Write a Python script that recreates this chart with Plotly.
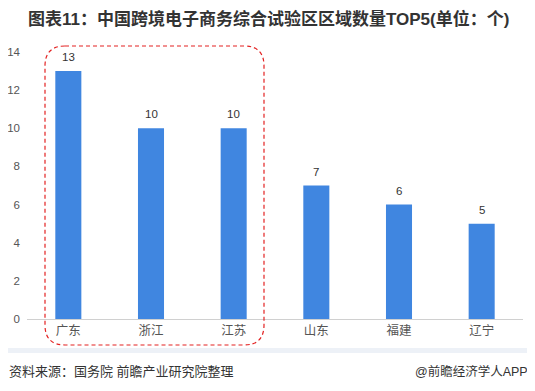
import plotly.graph_objects as go

categories = ["广东", "浙江", "江苏", "山东", "福建", "辽宁"]
values = [13, 10, 10, 7, 6, 5]
y_ticks = [0, 2, 4, 6, 8, 10, 12, 14]

title_text = "图表11：中国跨境电子商务综合试验区区域数量TOP5(单位：个)"
source_text = "资料来源：国务院 前瞻产业研究院整理"
brand_text = "@前瞻经济学人APP"

O = 8  # page body margin offset
W, H = 535 - O, 391 - O
L, R, T, B = 27 - O, 12, 52 - O, 72
pw, ph = W - L - R, H - T - B

def px(x):  # x in reference page pixels -> paper
    return (x - O - L) / pw

def py(y):
    return (H - B - (y - O)) / ph

FONT = "Liberation Sans, Arial, Noto Sans CJK SC, sans-serif"

fig = go.Figure()
fig.add_trace(go.Bar(
    x=categories, y=values,
    marker=dict(color="#4086E0", line=dict(width=0)),
    cliponaxis=False, width=0.315,
))

value_labels = [
    dict(x=c, y=v, xref="x", yref="y", text=str(v), showarrow=False,
         xanchor="center", yanchor="bottom", yshift=6,
         font=dict(size=11.5, color="#333333"))
    for c, v in zip(categories, values)
]

# dashed rounded highlight box
x0, x1, y0, y1 = px(45), px(264), py(345), py(46)
rx, ry = 20 / pw, 20 / ph
path = (f"M {x0+rx},{y1} L {x1-rx},{y1} Q {x1},{y1} {x1},{y1-ry} "
        f"L {x1},{y0+ry} Q {x1},{y0} {x1-rx},{y0} L {x0+rx},{y0} "
        f"Q {x0},{y0} {x0},{y0+ry} L {x0},{y1-ry} Q {x0},{y1} {x0+rx},{y1} Z")
shapes = [
    dict(type="path", xref="paper", yref="paper", path=path,
         line=dict(color="#E32222", width=1.2, dash="4px,3px"), fillcolor="rgba(0,0,0,0)"),
    dict(type="rect", xref="paper", yref="paper", x0=px(O), x1=px(534), y0=py(353), y1=py(348),
         line=dict(width=0), fillcolor="#EDF1F7", layer="below"),
    dict(type="rect", xref="paper", yref="paper", x0=px(532), x1=px(534), y0=py(348), y1=py(41),
         line=dict(width=0), fillcolor="#EDF1F7", layer="below"),
]

fig.update_layout(
    width=W, height=H,
    margin=dict(l=L, r=R, t=T, b=B, autoexpand=False),
    paper_bgcolor="white", plot_bgcolor="white",
    font=dict(family=FONT, color="#555555"),
    showlegend=False,
    bargap=0.685,
    shapes=shapes,
    xaxis=dict(showline=True, linecolor="#D0D0D0", linewidth=1, ticks="", automargin=False,
               tickfont=dict(size=12.5, color="#555555"), showgrid=False, fixedrange=True),
    yaxis=dict(range=[0, 14], tickvals=y_ticks, showgrid=False, zeroline=False, automargin=False,
               showline=False, tickfont=dict(size=11.5, color="#555555"), ticklabelstandoff=6),
    annotations=value_labels + [
        dict(text=f"<b>{title_text}</b>", xref="paper", yref="paper", x=px(268), y=py(19),
             xanchor="center", yanchor="middle", showarrow=False,
             font=dict(size=17, color="#333333", family=FONT)),
        dict(text=source_text, xref="paper", yref="paper", x=px(7), y=py(371),
             xanchor="left", yanchor="middle", showarrow=False,
             font=dict(size=13, color="#333333")),
        dict(text=brand_text, xref="paper", yref="paper", x=px(530), y=py(371),
             xanchor="right", yanchor="middle", showarrow=False,
             font=dict(size=12.5, color="#333333")),
    ],
)

fig.write_html("out.html")
